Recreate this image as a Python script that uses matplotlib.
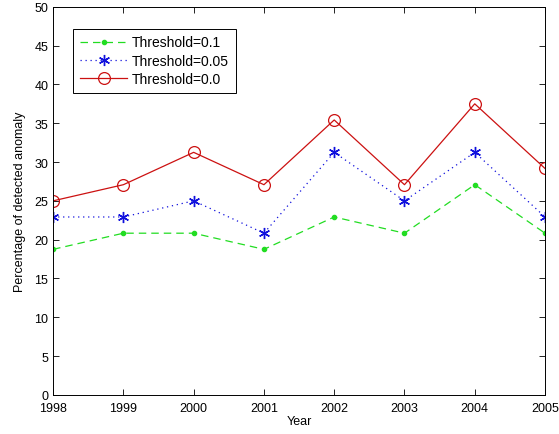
import matplotlib
matplotlib.use("Agg")
import matplotlib.pyplot as plt

years = [1998, 1999, 2000, 2001, 2002, 2003, 2004, 2005]
thr_01 = [18.75, 20.83, 20.83, 18.75, 22.92, 20.83, 27.08, 20.83]
thr_005 = [22.92, 22.92, 25.0, 20.83, 31.25, 25.0, 31.25, 22.92]
thr_00 = [25.0, 27.08, 31.25, 27.08, 35.42, 27.08, 37.5, 29.17]
labels = ["Threshold=0.1", "Threshold=0.05", "Threshold=0.0"]

plt.rcParams["font.family"] = ["Liberation Sans", "DejaVu Sans"]
plt.rcParams["font.size"] = 9

fig = plt.figure(figsize=(5.59, 4.35), dpi=100)
ax = fig.add_axes([0.095, 0.09, 0.88, 0.892])

ax.plot(years, thr_01, color="#22dd22", linestyle=(0, (6, 4)), linewidth=0.9,
        marker=".", markersize=6, label=labels[0])
ax.plot(years, thr_005, color="#1010dd", linestyle=(0, (1, 3)), linewidth=0.9,
        marker=(6, 2, 0), markersize=8, markeredgewidth=1.0,
        label=labels[1])
ax.plot(years, thr_00, color="#cc1111", linestyle="-", linewidth=0.9,
        marker="o", markersize=8.5, markerfacecolor="none", markeredgewidth=0.9,
        label=labels[2])

ax.set_xlim(1998, 2005)
ax.set_ylim(0, 50)
ax.set_xticks(years)
ax.set_yticks(range(0, 51, 5))
ax.tick_params(direction="in", top=True, right=True, length=4, width=0.6,
               labelsize=9)
ax.tick_params(axis="x", pad=5)
for s in ax.spines.values():
    s.set_linewidth(0.7)

ax.set_xlabel("Year", labelpad=1)
ax.set_ylabel("Percentage of detected anomaly", labelpad=6)

leg = ax.legend(loc="upper left", bbox_to_anchor=(0.027, 0.962), fancybox=False,
                edgecolor="black", framealpha=1, borderpad=0.5,
                handlelength=3.4, handletextpad=0.3, labelspacing=0.3,
                fontsize=10)
leg.get_frame().set_linewidth(0.7)

fig.savefig("out.png", dpi=100)
